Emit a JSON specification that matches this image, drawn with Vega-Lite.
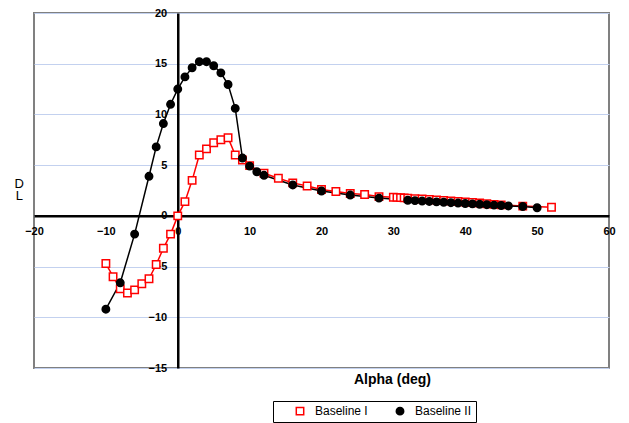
{
  "$schema": "https://vega.github.io/schema/vega-lite/v6.json",
  "width": 575,
  "height": 355,
  "autosize": "none",
  "padding": {"left": 34, "top": 13, "right": 20, "bottom": 55},
  "background": "white",
  "config": {
    "view": {"stroke": "#808080", "strokeWidth": 2},
    "font": "Liberation Sans",
    "axis": {"labelFont": "Liberation Sans", "titleFont": "Liberation Sans", "labelColor": "black", "titleColor": "black"},
    "legend": {
      "title": null, "orient": "none", "direction": "horizontal",
      "legendX": 239, "legendY": 388,
      "strokeColor": "black", "fillColor": "white", "padding": 4,
      "symbolSize": 55, "symbolStrokeWidth": 1.5, "symbolOffset": 17, "symbolOpacity": 1,
      "labelFont": "Liberation Sans", "labelFontSize": 12, "labelColor": "black", "labelOffset": 9,
      "columnPadding": 9
    }
  },
  "data": {
    "values": [
      {"series": "Baseline I", "alpha": -10, "dl": -4.7},
      {"series": "Baseline I", "alpha": -9, "dl": -6.0},
      {"series": "Baseline I", "alpha": -8, "dl": -7.2},
      {"series": "Baseline I", "alpha": -7, "dl": -7.6},
      {"series": "Baseline I", "alpha": -6, "dl": -7.3},
      {"series": "Baseline I", "alpha": -5, "dl": -6.7},
      {"series": "Baseline I", "alpha": -4, "dl": -6.2},
      {"series": "Baseline I", "alpha": -3, "dl": -4.8},
      {"series": "Baseline I", "alpha": -2, "dl": -3.2},
      {"series": "Baseline I", "alpha": -1, "dl": -1.8},
      {"series": "Baseline I", "alpha": 0, "dl": 0.0},
      {"series": "Baseline I", "alpha": 1, "dl": 1.4},
      {"series": "Baseline I", "alpha": 2, "dl": 3.5},
      {"series": "Baseline I", "alpha": 3, "dl": 6.0},
      {"series": "Baseline I", "alpha": 4, "dl": 6.6},
      {"series": "Baseline I", "alpha": 5, "dl": 7.2},
      {"series": "Baseline I", "alpha": 6, "dl": 7.5},
      {"series": "Baseline I", "alpha": 7, "dl": 7.7},
      {"series": "Baseline I", "alpha": 8, "dl": 6.0},
      {"series": "Baseline I", "alpha": 9, "dl": 5.5},
      {"series": "Baseline I", "alpha": 10, "dl": 4.95},
      {"series": "Baseline I", "alpha": 12, "dl": 4.2},
      {"series": "Baseline I", "alpha": 14, "dl": 3.7},
      {"series": "Baseline I", "alpha": 16, "dl": 3.25},
      {"series": "Baseline I", "alpha": 18, "dl": 2.95},
      {"series": "Baseline I", "alpha": 20, "dl": 2.6},
      {"series": "Baseline I", "alpha": 22, "dl": 2.4},
      {"series": "Baseline I", "alpha": 24, "dl": 2.2},
      {"series": "Baseline I", "alpha": 26, "dl": 2.1},
      {"series": "Baseline I", "alpha": 28, "dl": 1.9},
      {"series": "Baseline I", "alpha": 30, "dl": 1.84},
      {"series": "Baseline I", "alpha": 30.5, "dl": 1.82},
      {"series": "Baseline I", "alpha": 31, "dl": 1.8},
      {"series": "Baseline I", "alpha": 31.5, "dl": 1.77},
      {"series": "Baseline I", "alpha": 32, "dl": 1.74},
      {"series": "Baseline I", "alpha": 33, "dl": 1.7},
      {"series": "Baseline I", "alpha": 34, "dl": 1.66},
      {"series": "Baseline I", "alpha": 35, "dl": 1.62},
      {"series": "Baseline I", "alpha": 36, "dl": 1.57},
      {"series": "Baseline I", "alpha": 37, "dl": 1.52},
      {"series": "Baseline I", "alpha": 38, "dl": 1.47},
      {"series": "Baseline I", "alpha": 39, "dl": 1.42},
      {"series": "Baseline I", "alpha": 40, "dl": 1.37},
      {"series": "Baseline I", "alpha": 41, "dl": 1.32},
      {"series": "Baseline I", "alpha": 42, "dl": 1.26},
      {"series": "Baseline I", "alpha": 43, "dl": 1.2},
      {"series": "Baseline I", "alpha": 44, "dl": 1.13},
      {"series": "Baseline I", "alpha": 45, "dl": 1.08},
      {"series": "Baseline I", "alpha": 48, "dl": 0.96},
      {"series": "Baseline I", "alpha": 52, "dl": 0.85},
      {"series": "Baseline II", "alpha": -10, "dl": -9.2},
      {"series": "Baseline II", "alpha": -8, "dl": -6.6},
      {"series": "Baseline II", "alpha": -6, "dl": -1.8},
      {"series": "Baseline II", "alpha": -4, "dl": 3.9},
      {"series": "Baseline II", "alpha": -3, "dl": 6.8},
      {"series": "Baseline II", "alpha": -2, "dl": 9.1},
      {"series": "Baseline II", "alpha": -1, "dl": 11.0},
      {"series": "Baseline II", "alpha": 0, "dl": 12.5},
      {"series": "Baseline II", "alpha": 1, "dl": 13.7},
      {"series": "Baseline II", "alpha": 2, "dl": 14.6},
      {"series": "Baseline II", "alpha": 3, "dl": 15.2},
      {"series": "Baseline II", "alpha": 4, "dl": 15.2},
      {"series": "Baseline II", "alpha": 5, "dl": 14.8},
      {"series": "Baseline II", "alpha": 6, "dl": 14.1},
      {"series": "Baseline II", "alpha": 7, "dl": 12.95},
      {"series": "Baseline II", "alpha": 8, "dl": 10.6},
      {"series": "Baseline II", "alpha": 9, "dl": 5.7},
      {"series": "Baseline II", "alpha": 10, "dl": 4.9},
      {"series": "Baseline II", "alpha": 11, "dl": 4.35},
      {"series": "Baseline II", "alpha": 12, "dl": 4.0},
      {"series": "Baseline II", "alpha": 16, "dl": 3.05},
      {"series": "Baseline II", "alpha": 20, "dl": 2.45},
      {"series": "Baseline II", "alpha": 24, "dl": 2.05},
      {"series": "Baseline II", "alpha": 28, "dl": 1.75},
      {"series": "Baseline II", "alpha": 32, "dl": 1.54},
      {"series": "Baseline II", "alpha": 33, "dl": 1.5},
      {"series": "Baseline II", "alpha": 34, "dl": 1.46},
      {"series": "Baseline II", "alpha": 35, "dl": 1.42},
      {"series": "Baseline II", "alpha": 36, "dl": 1.38},
      {"series": "Baseline II", "alpha": 37, "dl": 1.34},
      {"series": "Baseline II", "alpha": 38, "dl": 1.3},
      {"series": "Baseline II", "alpha": 39, "dl": 1.26},
      {"series": "Baseline II", "alpha": 40, "dl": 1.22},
      {"series": "Baseline II", "alpha": 41, "dl": 1.18},
      {"series": "Baseline II", "alpha": 42, "dl": 1.14},
      {"series": "Baseline II", "alpha": 43, "dl": 1.1},
      {"series": "Baseline II", "alpha": 44, "dl": 1.06},
      {"series": "Baseline II", "alpha": 45, "dl": 1.02},
      {"series": "Baseline II", "alpha": 46, "dl": 0.98},
      {"series": "Baseline II", "alpha": 48, "dl": 0.92},
      {"series": "Baseline II", "alpha": 50, "dl": 0.8}
    ]
  },
  "encoding": {
    "x": {
      "field": "alpha", "type": "quantitative",
      "scale": {"domain": [-20, 60], "nice": false, "zero": false},
      "axis": {
        "values": [-20, -10, 0, 10, 20, 30, 40, 50, 60],
        "grid": false, "ticks": false, "offset": -152.14,
        "domainColor": "black", "domainWidth": 2.5,
        "labelFontWeight": "bold", "labelFontSize": 11, "labelPadding": 10, "labelFlush": false,
        "title": "Alpha (deg)", "titleFontWeight": "bold", "titleFontSize": 14,
        "titleX": 358, "titleY": 164, "titleBaseline": "middle", "titleAlign": "center"
      }
    },
    "y": {
      "field": "dl", "type": "quantitative",
      "scale": {"domain": [-15, 20], "nice": false, "zero": false},
      "axis": {
        "values": [-15, -10, -5, 0, 5, 10, 15, 20],
        "grid": true, "gridColor": "#c3d1ef", "gridWidth": 1,
        "ticks": false, "offset": -143.75,
        "domainColor": "black", "domainWidth": 2.5,
        "labelFontWeight": "bold", "labelFontSize": 11, "labelPadding": 11, "labelFlush": false,
        "title": ["D", "L"], "titleFontWeight": "normal", "titleFontSize": 13, "titleAngle": 0,
        "titleLineHeight": 12, "titleX": -159, "titleY": 170, "titleAlign": "center", "titleBaseline": "middle"
      }
    },
    "color": {"field": "series", "type": "nominal",
      "scale": {"domain": ["Baseline I", "Baseline II"], "range": ["#ff0000", "#000000"]}}
  },
  "layer": [
    {
      "mark": {"type": "line", "strokeWidth": 1.5}
    },
    {
      "mark": {"type": "point", "strokeWidth": 1.5, "opacity": 1},
      "encoding": {
        "shape": {"field": "series", "type": "nominal",
          "scale": {"domain": ["Baseline I", "Baseline II"], "range": ["square", "circle"]}},
        "fill": {"field": "series", "type": "nominal",
          "scale": {"domain": ["Baseline I", "Baseline II"], "range": ["white", "black"]}},
        "size": {"value": 55}
      }
    }
  ]
}
